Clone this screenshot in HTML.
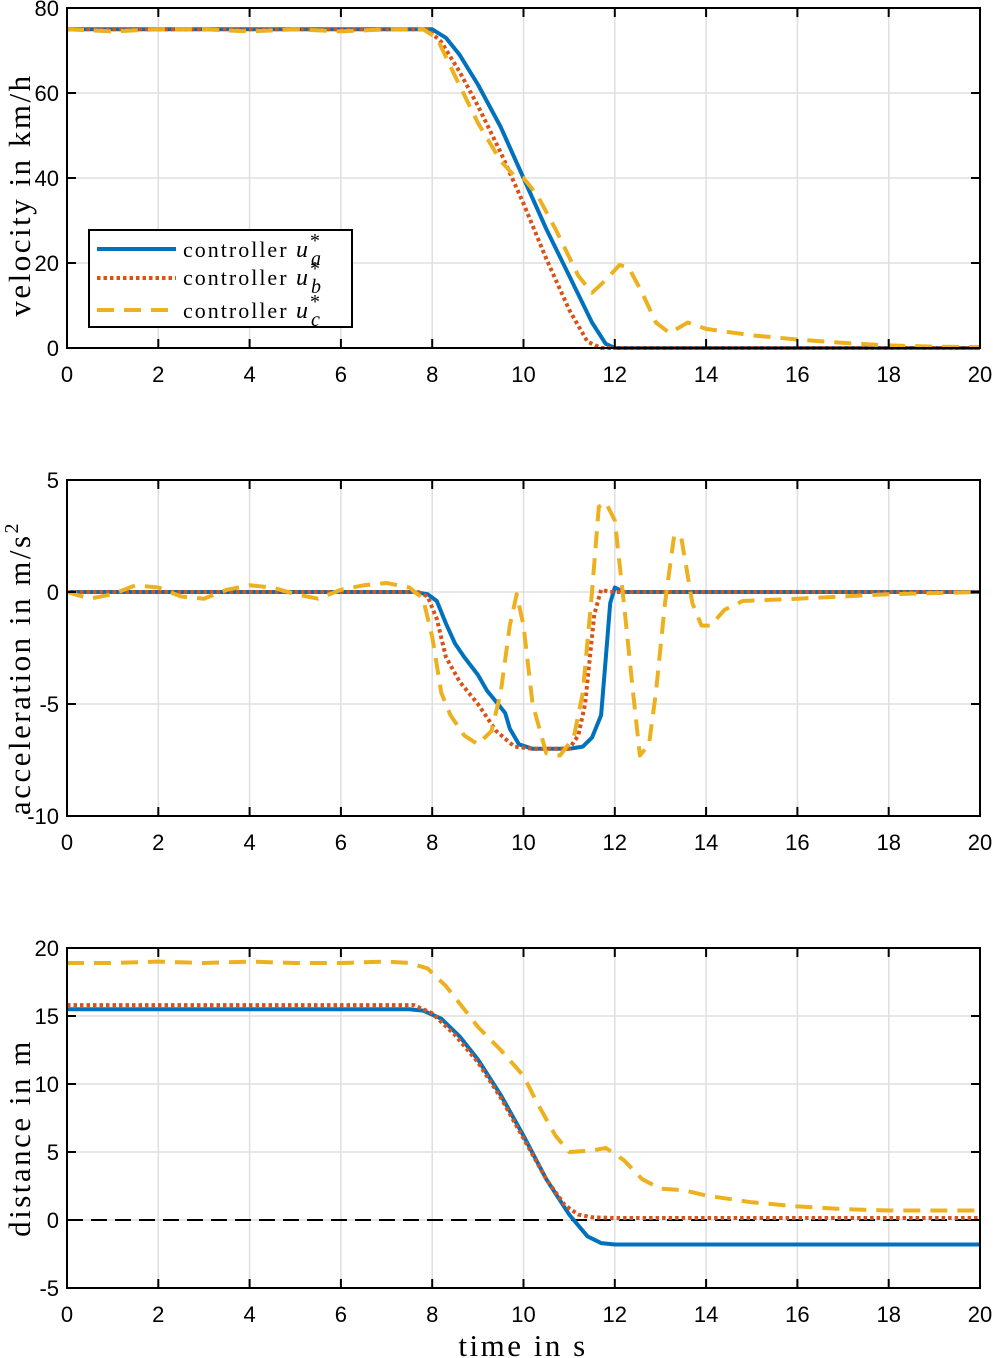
<!DOCTYPE html>
<html><head><meta charset="utf-8"><style>
body{margin:0;background:#fff}
svg{display:block}
.tick{font-family:"Liberation Sans",sans-serif;font-size:22px;fill:#000}
.lab{font-family:"Liberation Serif",serif;font-size:31px;letter-spacing:2.5px;fill:#000}
.leg{font-family:"Liberation Serif",serif;font-size:22px;fill:#000;letter-spacing:2px}
</style></head><body>
<svg id="fig" width="993" height="1358" viewBox="0 0 993 1358" xmlns="http://www.w3.org/2000/svg"></svg>
<script>
// ---- data ----
const velT_a=[0,7.9,8.0,8.3,8.6,9,9.5,10,10.5,11,11.5,11.8,12,20];
const velV_a=[75,75,75,73,69,62,52,40,28,17,6,1,0,0];
const velT_b=[0,7.9,8.2,8.6,9,9.5,10,10.5,11,11.4,11.7,20];
const velV_b=[75,75,72,65,57,46,34,21,9,1.5,0,0];
const velT_c=[0,1,2,3,4,5,6,7,7.8,8.1,8.5,9,9.5,9.8,10,10.3,10.7,11.2,11.5,11.8,12.1,12.3,12.6,12.9,13.2,13.6,14,15,16,17,18,19,20];
const velV_c=[75,74.5,75,75,74.5,75,74.5,75,75,73,64,53,44,40.5,40,36,28,17,13,16,19.5,19,13,6,3.5,6,4.5,3,2,1.2,0.6,0.3,0.2];

const accT_a=[0,7.6,7.9,8.1,8.3,8.5,8.7,9,9.2,9.4,9.6,9.7,9.9,10.2,11,11.3,11.5,11.7,11.8,11.9,12.0,12.2,20];
const accV_a=[0,0,-0.1,-0.4,-1.4,-2.3,-2.9,-3.7,-4.4,-4.9,-5.4,-6.1,-6.8,-7.0,-7.0,-6.9,-6.5,-5.5,-3,-0.5,0.2,0,0];
const accT_b=[0,7.7,7.9,8.1,8.3,8.6,9,9.4,9.8,10.2,11,11.2,11.35,11.45,11.55,11.7,11.9,20];
const accV_b=[0,0,-0.2,-1.2,-2.9,-4,-5,-6.2,-6.9,-7.0,-7.0,-6.4,-5,-3,-1,0.1,0,0];
const accT_c=[0,0.5,1,1.5,2,2.5,3,3.5,4,4.5,5,5.5,6,6.5,7,7.5,7.8,8,8.2,8.4,8.7,9,9.3,9.5,9.7,9.85,10.0,10.2,10.5,10.8,11.1,11.3,11.5,11.65,11.8,12.0,12.2,12.4,12.55,12.75,12.9,13.1,13.3,13.45,13.7,13.9,14.1,14.4,14.8,16,17,18,20];
const accV_c=[0,-0.3,-0.1,0.3,0.2,-0.2,-0.3,0.1,0.3,0.2,-0.1,-0.3,0.1,0.3,0.4,0.2,-0.3,-2,-4.5,-5.5,-6.4,-6.8,-6.2,-4.5,-1.5,-0.1,-1.5,-5,-7.2,-7.3,-6.5,-4.5,0,3.8,4.0,3.2,-0.5,-4.5,-7.3,-6.8,-4.5,-0.5,2.5,2.5,-0.5,-1.5,-1.5,-0.8,-0.4,-0.3,-0.2,-0.1,0];

const disT_a=[0,7.5,7.8,8.2,8.6,9,9.5,10,10.5,11,11.4,11.7,12,20];
const disV_a=[15.5,15.5,15.4,14.8,13.5,11.8,9.2,6.2,3,0.4,-1.2,-1.7,-1.8,-1.8];
const disT_b=[0,7.6,8,8.5,9,9.5,10,10.5,10.9,11.2,11.5,12,20];
const disV_b=[15.8,15.8,15.2,13.6,11.6,9,6,3,1.1,0.4,0.2,0.15,0.15];
const disT_c=[0,1,2,3,4,5,6,7,7.5,7.9,8.3,8.7,9,9.5,10,10.3,10.7,11,11.5,11.8,12.2,12.6,13,13.5,14,15,16,17,18,19,20];
const disV_c=[18.9,18.9,19,18.9,19,18.9,18.9,19,18.9,18.5,17.2,15.5,14.2,12.5,10.6,8.6,6.2,5,5.1,5.3,4.4,3,2.3,2.2,1.8,1.3,1,0.8,0.7,0.7,0.7];

const xTicks=[0,2,4,6,8,10,12,14,16,18,20];
const velTicks=[0,20,40,60,80];
const accTicks=[-10,-5,0,5];
const disTicks=[-5,0,5,10,15,20];

// ---- drawing ----
const NS="http://www.w3.org/2000/svg";
const svg=document.getElementById('fig');
const X0=67,X1=980;
function el(tag,attrs,parent){const e=document.createElementNS(NS,tag);for(const k in attrs)e.setAttribute(k,attrs[k]);(parent||svg).appendChild(e);return e;}
const BLUE="#0072BD",RED="#D95319",YEL="#EDB120";
function panel(name,top,bot,ymin,ymax,yticks,series,zeroLine){
  const g=el('g',{});
  
  
  const sx=t=>X0+(t/20)*(X1-X0);
  const sy=v=>bot-(v-ymin)/(ymax-ymin)*(bot-top);
  xTicks.forEach(t=>{const l=el('line',{x1:sx(t),x2:sx(t),y1:top,y2:bot,stroke:'#dfdfdf','stroke-width':1.5},g);
    });
  yticks.forEach(v=>{const l=el('line',{x1:X0,x2:X1,y1:sy(v),y2:sy(v),stroke:'#dfdfdf','stroke-width':1.5},g);
    });
  if(zeroLine){const z=el('line',{x1:X0,x2:X1,y1:sy(0),y2:sy(0),stroke:'#000','stroke-width':2,'stroke-dasharray':'16,8'},g);
    }
  const styles=[{c:BLUE,d:null,n:'series-a'},{c:RED,d:'3.5,3',n:'series-b'},{c:YEL,d:'17,10',n:'series-c'}];
  [0,1,2].forEach(i=>{const s=series[i];const st=styles[i];
    const pts=s[0].map((t,j)=>sx(t).toFixed(1)+','+sy(s[1][j]).toFixed(1)).join(' ');
    const a={points:pts,fill:'none',stroke:st.c,'stroke-width':4,'stroke-linejoin':'round'};
    if(st.d)a['stroke-dasharray']=st.d;
    const p=el('polyline',a,g);
    });
  const fr=el('rect',{x:X0,y:top,width:X1-X0,height:bot-top,fill:'none',stroke:'#000','stroke-width':2},g);
  
  xTicks.forEach(t=>{
    el('line',{x1:sx(t),x2:sx(t),y1:bot,y2:bot-9,stroke:'#000','stroke-width':2},g);
    el('line',{x1:sx(t),x2:sx(t),y1:top,y2:top+9,stroke:'#000','stroke-width':2},g);
    const tx=el('text',{x:sx(t),y:bot+34,'text-anchor':'middle',class:'tick'},g);tx.textContent=t;
    });
  yticks.forEach(v=>{
    el('line',{x1:X0,x2:X0+9,y1:sy(v),y2:sy(v),stroke:'#000','stroke-width':2},g);
    el('line',{x1:X1,x2:X1-9,y1:sy(v),y2:sy(v),stroke:'#000','stroke-width':2},g);
    const tx=el('text',{x:X0-8,y:sy(v)+8,'text-anchor':'end',class:'tick'},g);tx.textContent=v;
    });
}
panel('velocity',8,348,0,80,velTicks,[[velT_a,velV_a],[velT_b,velV_b],[velT_c,velV_c]],false);
panel('acceleration',480,816,-10,5,accTicks,[[accT_a,accV_a],[accT_b,accV_b],[accT_c,accV_c]],false);
panel('distance',948,1288,-5,20,disTicks,[[disT_a,disV_a],[disT_b,disV_b],[disT_c,disV_c]],true);
</script>
<script>
(function(){
const NS="http://www.w3.org/2000/svg";const svg=document.getElementById('fig');
function t(txt,x,y,rot,name,cls){const e=document.createElementNS(NS,'text');e.setAttribute('x',x);e.setAttribute('y',y);e.setAttribute('class',cls||'lab');e.setAttribute('text-anchor','middle');
 if(rot)e.setAttribute('transform','rotate(-90 '+x+' '+y+')');e.innerHTML=txt;
 
 
 svg.appendChild(e);return e;}
t('velocity in km/h',30,195,true,'y-axis-title-velocity');
t('acceleration in m/s<tspan dy="-12" font-size="20">2</tspan>',30,668,true,'y-axis-title-acceleration');
t('distance in m',30,1138,true,'y-axis-title-distance');
t('time in s',523,1356,false,'x-axis-title');
const g=document.createElementNS(NS,'g');


svg.appendChild(g);
g.innerHTML='<rect x="89" y="230" width="263" height="97" fill="#fff" stroke="#000" stroke-width="2"/>'+
'<line x1="97" x2="176" y1="249" y2="249" stroke="#0072BD" stroke-width="4"/>'+
'<line x1="97" x2="176" y1="278" y2="278" stroke="#D95319" stroke-width="4" stroke-dasharray="3.5,3"/>'+
'<line x1="97" x2="176" y1="310" y2="310" stroke="#EDB120" stroke-width="4" stroke-dasharray="17,10"/>'+
'<text class="leg" x="183" y="257">controller <tspan font-style="italic" font-size="24">u</tspan><tspan font-size="20" dy="-10">*</tspan><tspan font-size="20" font-style="italic" dx="-11" dy="18">a</tspan></text>'+
'<text class="leg" x="183" y="285">controller <tspan font-style="italic" font-size="24">u</tspan><tspan font-size="20" dy="-10">*</tspan><tspan font-size="20" font-style="italic" dx="-11" dy="18">b</tspan></text>'+
'<text class="leg" x="183" y="318">controller <tspan font-style="italic" font-size="24">u</tspan><tspan font-size="20" dy="-10">*</tspan><tspan font-size="20" font-style="italic" dx="-11" dy="18">c</tspan></text>';
g.querySelectorAll('text').forEach(e=>{


});
})();
</script>
</body></html>
